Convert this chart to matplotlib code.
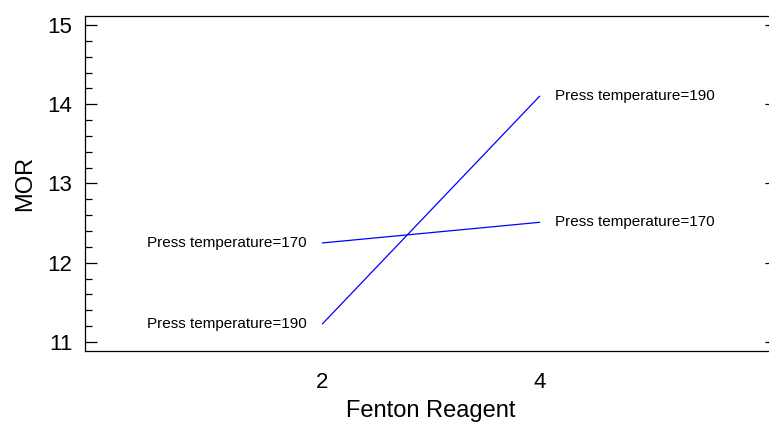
import matplotlib
matplotlib.use("Agg")
import matplotlib.pyplot as plt
from matplotlib.ticker import MultipleLocator

plt.rcParams['font.family'] = ['Liberation Sans', 'DejaVu Sans']

# interaction plot data
fenton = [2, 4]
series = ["Press temperature=170", "Press temperature=190"]
mor_170 = [12.25, 12.51]
mor_190 = [11.23, 14.10]

fig = plt.figure(figsize=(7.69, 4.25), dpi=100)
ax = fig.add_axes([0.1105, 0.1741, 0.9, 0.7883])

for name, vals in zip(series, [mor_170, mor_190]):
    ax.plot(fenton, vals, color='#0000ff', lw=0.9)
    ax.annotate(name, (fenton[0], vals[0]), xytext=(-11.5, 0), textcoords='offset points',
                ha='right', va='center', fontsize=11)
    ax.annotate(name, (fenton[1], vals[1]), xytext=(11, 0), textcoords='offset points',
                ha='left', va='center', fontsize=11)

ax.set_xlim(-0.19, 6.19)
ax.set_ylim(10.886, 15.114)
ax.set_xticks(fenton)
ax.yaxis.set_major_locator(MultipleLocator(1))
ax.yaxis.set_minor_locator(MultipleLocator(0.2))
ax.tick_params(axis='y', which='major', direction='in', length=8.6, width=0.9,
               left=True, right=True, labelsize=16, pad=9)
ax.tick_params(axis='y', which='minor', direction='in', length=5, width=0.9,
               left=True, right=False)
ax.tick_params(axis='x', length=0, labelsize=16, pad=15)
for s in ax.spines.values():
    s.set_linewidth(0.9)

ax.set_xlabel("Fenton Reagent", fontsize=17, labelpad=5)
ax.set_ylabel("MOR", fontsize=17, labelpad=8)

fig.savefig("out.png", dpi=100)
